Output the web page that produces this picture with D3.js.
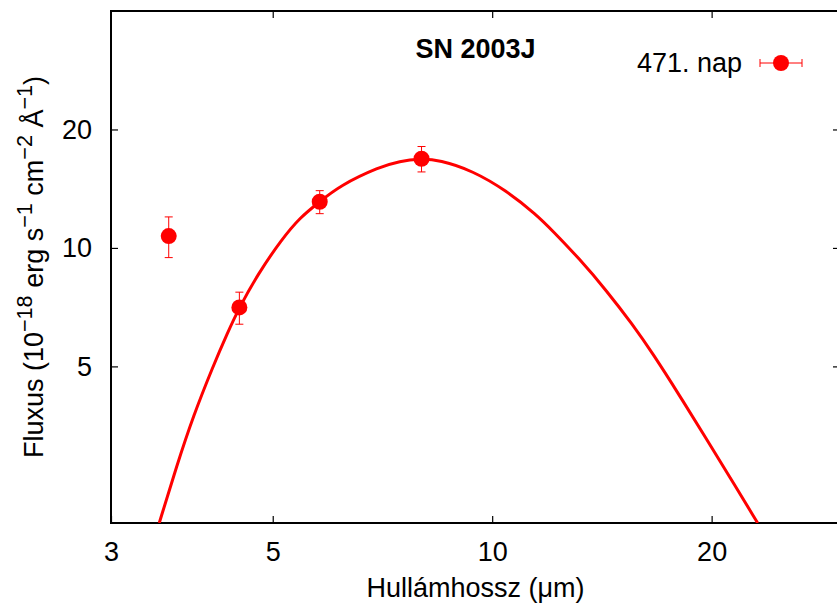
<!DOCTYPE html>
<html>
<head>
<meta charset="utf-8">
<script src="https://cdn.jsdelivr.net/npm/d3@7"></script>
<style>
  body { margin: 0; background: #fff; }
  text { font-family: "Liberation Sans", Arial, Helvetica, sans-serif; }
</style>
</head>
<body>
<div id="chart"></div>
<script>
// Measured points (IRAC bands)
const wavelengths = [3.6, 4.5, 5.8, 8.0];
const fluxes = [10.72, 7.06, 13.1, 16.85];
const fluxErrors = [1.27, 0.66, 0.88, 1.25];

// Fitted curve
const fitWavelengths = [3.494, 3.691, 3.890, 4.142, 4.33, 4.50, 4.775, 5.141, 5.446, 5.79, 6.18, 7.01, 7.47, 7.95, 8.47, 9.40, 10.46, 11.50, 12.10, 13.17, 14.35, 15.58, 16.61, 18.07, 19.65, 21.15, 23.13];
const fitFluxes = [2.0, 2.79, 3.74, 5.01, 6.06, 7.06, 8.60, 10.50, 11.94, 13.07, 14.40, 16.08, 16.61, 16.85, 16.73, 15.71, 13.98, 12.15, 11.06, 9.39, 7.79, 6.39, 5.39, 4.22, 3.28, 2.63, 2.0];

const xTicks = [3, 5, 10, 20];
const yTicks = [5, 10, 20];

const seriesLabel = "471. nap";
const title = "SN 2003J";

const width = 837, height = 611;
const mLeft = 111, mRight = 840, mTop = 11, mBottom = 523;
const red = "#ff0000";
const fontSize = 27;

const svg = d3.select("#chart")
    .append("svg")
    .attr("width", width)
    .attr("height", height);

const x = d3.scaleLog().domain([3, 30]).range([mLeft, mRight]);
const y = d3.scaleLog().domain([2, 40]).range([mBottom, mTop]);

svg.append("clipPath").attr("id", "plot")
    .append("rect")
    .attr("x", mLeft).attr("y", mTop)
    .attr("width", mRight - mLeft).attr("height", mBottom - mTop);

// Axes (ticks drawn inward, mirrored on all sides)
const tickLen = 7;
svg.append("g")
    .attr("transform", `translate(0,${mBottom})`)
    .call(d3.axisBottom(x).tickValues(xTicks).tickFormat(d3.format("d")).tickSizeInner(-tickLen).tickSizeOuter(0).tickPadding(19))
    .call(g => g.select(".domain").remove());

svg.append("g")
    .attr("transform", `translate(0,${mTop})`)
    .call(d3.axisTop(x).tickValues(xTicks.filter(d => d !== 3)).tickFormat("").tickSizeInner(-tickLen).tickSizeOuter(0))
    .call(g => g.select(".domain").remove());

svg.append("g")
    .attr("transform", `translate(${mLeft},0)`)
    .call(d3.axisLeft(y).tickValues(yTicks).tickFormat(d3.format("d")).tickSizeInner(-tickLen).tickSizeOuter(0).tickPadding(19))
    .call(g => g.select(".domain").remove());

svg.append("g")
    .attr("transform", `translate(${mRight},0)`)
    .call(d3.axisRight(y).tickValues(yTicks).tickFormat("").tickSizeInner(-tickLen).tickSizeOuter(0))
    .call(g => g.select(".domain").remove());

svg.selectAll(".tick line").attr("stroke", "#000").attr("stroke-width", 1.2);
svg.selectAll(".tick text")
    .attr("fill", "#000")
    .style("font-size", fontSize + "px")
    .style("font-family", "'Liberation Sans', Arial, sans-serif");

// Border
svg.append("rect")
    .attr("x", mLeft).attr("y", mTop)
    .attr("width", mRight - mLeft).attr("height", mBottom - mTop)
    .attr("fill", "none")
    .attr("stroke", "#000")
    .attr("stroke-width", 2);

// Fit curve
const fitData = fitWavelengths.map((w, i) => [w, fitFluxes[i]]);
const line = d3.line()
    .x(d => x(d[0]))
    .y(d => y(d[1]))
    .curve(d3.curveBasis);

svg.append("path")
    .datum(fitData)
    .attr("clip-path", "url(#plot)")
    .attr("d", line)
    .attr("fill", "none")
    .attr("stroke", red)
    .attr("stroke-width", 3);

// Data points with error bars
const points = wavelengths.map((w, i) => ({ w: w, f: fluxes[i], e: fluxErrors[i] }));
const capW = 4;
const pts = svg.append("g").selectAll("g")
    .data(points)
    .join("g");

pts.append("line")
    .attr("x1", d => x(d.w)).attr("x2", d => x(d.w))
    .attr("y1", d => y(d.f + d.e)).attr("y2", d => y(d.f - d.e))
    .attr("stroke", red).attr("stroke-width", 1);
pts.append("line")
    .attr("x1", d => x(d.w) - capW).attr("x2", d => x(d.w) + capW)
    .attr("y1", d => y(d.f + d.e)).attr("y2", d => y(d.f + d.e))
    .attr("stroke", red).attr("stroke-width", 1);
pts.append("line")
    .attr("x1", d => x(d.w) - capW).attr("x2", d => x(d.w) + capW)
    .attr("y1", d => y(d.f - d.e)).attr("y2", d => y(d.f - d.e))
    .attr("stroke", red).attr("stroke-width", 1);
pts.append("circle")
    .attr("cx", d => x(d.w))
    .attr("cy", d => y(d.f))
    .attr("r", 8)
    .attr("fill", red);

// Title
svg.append("text")
    .attr("x", (mLeft + mRight) / 2)
    .attr("y", 58)
    .attr("text-anchor", "middle")
    .style("font-size", fontSize + "px")
    .style("font-weight", "bold")
    .text(title);

// Legend
const legY = 63;
svg.append("text")
    .attr("x", 742)
    .attr("y", legY + 9)
    .attr("text-anchor", "end")
    .style("font-size", fontSize + "px")
    .text(seriesLabel);
const leg = svg.append("g");
leg.append("line").attr("x1", 760).attr("x2", 802).attr("y1", legY).attr("y2", legY)
    .attr("stroke", red).attr("stroke-width", 1);
leg.append("line").attr("x1", 760).attr("x2", 760).attr("y1", legY - capW).attr("y2", legY + capW)
    .attr("stroke", red).attr("stroke-width", 1);
leg.append("line").attr("x1", 802).attr("x2", 802).attr("y1", legY - capW).attr("y2", legY + capW)
    .attr("stroke", red).attr("stroke-width", 1);
leg.append("circle").attr("cx", 781).attr("cy", legY).attr("r", 8).attr("fill", red);

// X axis label
svg.append("text")
    .attr("x", (mLeft + mRight) / 2)
    .attr("y", 597)
    .attr("text-anchor", "middle")
    .style("font-size", fontSize + "px")
    .text("Hullámhossz (μm)");

// Y axis label with superscripts
const yLab = svg.append("text")
    .attr("transform", `translate(43,${(mTop + mBottom) / 2}) rotate(-90)`)
    .attr("text-anchor", "middle")
    .style("font-size", fontSize + "px");
const parts = [
    ["Fluxus (10", false], ["−18", true], [" erg s", false], ["−1", true],
    [" cm", false], ["−2", true], [" Å", false], ["−1", true], [")", false]
];
parts.forEach(([t, sup], i) => {
    const prevSup = i > 0 && parts[i - 1][1];
    yLab.append("tspan")
        .attr("dy", sup ? -11 : (prevSup ? 11 : 0))
        .style("font-size", sup ? (fontSize * 0.8) + "px" : null)
        .text(t);
});
</script>
</body>
</html>
